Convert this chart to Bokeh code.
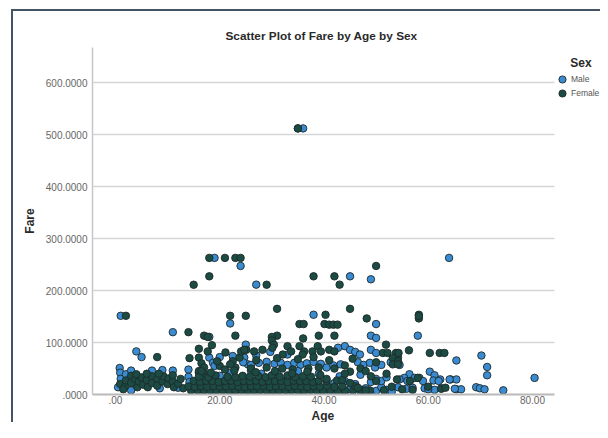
from bokeh.plotting import figure
from bokeh.models import Range1d, FixedTicker, Legend, LegendItem, Label, Title
from bokeh.embed import file_html
from bokeh.resources import INLINE

title_text = "Scatter Plot of Fare by Age by Sex"
x_label = "Age"
y_label = "Fare"
legend_title = "Sex"
series_names = ["Male", "Female"]

x_ticks = [0, 20, 40, 60, 80]
x_tick_labels = [".00", "20.00", "40.00", "60.00", "80.00"]
y_ticks = [0, 100, 200, 300, 400, 500, 600]
y_tick_labels = [".0000", "100.0000", "200.0000", "300.0000", "400.0000", "500.0000", "600.0000"]

# ---- Male (blue) ----
male_age = [
    36, 35, 19, 64, 24, 27, 45, 49, 1, 38, 22, 50, 11, 18, 49, 50, 58,
    0.8, 0.9, 1.0, 0.5, 2, 4, 5, 3, 7, 9, 11, 14, 14, 14.2, 16, 16.8, 18, 18.7, 20, 19,
    22.5, 24.7, 25.4, 25,
    24.5, 26, 27.5, 29, 30.5, 31.7, 33, 34.3, 35.5, 36.7, 38, 39.4, 40.5, 41.8, 43.2,
    46.5, 47.6, 48.8, 49.8, 51, 52.8, 54.5,
    44, 45, 46, 46.9, 49, 50, 42.7, 29.7, 33, 27,
    65.4, 70.2, 71.3, 71.3, 80.4, 64.3, 65.4, 60.3, 61.2, 62.3, 56.4, 55.4, 54.5, 57.4, 58.3, 64.1,
    69.2, 69.9, 70.8, 74.4, 65.4, 66.3, 54.2, 55.8, 59.3, 61.2, 62.5, 65.1,
    40, 42, 44, 45, 47, 48, 50, 51, 52, 53, 36, 38, 42, 44, 46, 49, 50, 51, 52, 47, 43, 39,
    35, 31, 28, 26, 22, 20, 21, 23, 25, 30, 33, 36, 39, 19, 49, 40,
    4, 8.5, 12, 3, 17, 28, 33, 37,
    56, 57, 59, 60, 61, 62,
]
male_fare = [
    512.3, 512.3, 263, 263, 247.5, 211.5, 227.5, 221.8, 151.5, 153.5, 136.8, 135.6, 120, 110.9, 113.3, 108.9, 113.3,
    51, 42, 30, 14, 39, 83, 72, 46, 46, 47, 46, 48, 34, 24, 42, 29, 71, 61, 72, 55,
    74, 71, 58, 96,
    62, 57, 61, 63, 59, 61, 57, 61, 57, 60, 63, 59, 52, 56, 58,
    62, 57, 61, 52, 57, 62, 57,
    93, 86, 82, 77, 86, 80, 90, 82, 77, 75,
    65.5, 75, 53, 37, 32, 29, 29, 44, 37, 29, 39, 32, 29, 32, 32, 29,
    14, 12, 10, 8, 10, 10, 14, 11, 12, 9, 12, 11,
    5, 8, 4, 10, 6, 12, 7, 14, 9, 5, 20, 25, 22, 26, 20, 24, 30, 26, 33, 38, 35, 40,
    45, 43, 40, 46, 42, 36, 12, 0, 0, 0, 0, 0, 0, 0, 0, 0,
    20, 12, 13, 8, 8, 10, 28, 12,
    26, 13, 26, 10, 27, 26,
]

# ---- Female (dark green) ----
female_age = [
    35, 18, 21, 23, 24, 18, 15, 29, 38, 42, 43, 50, 31, 45, 22, 25, 2,
    35.3, 36.1, 40.3, 40.1, 41, 41.8, 42.6, 48.2, 58.2, 58.2, 58.2,
    14, 17, 17.7, 23, 31, 39, 42, 30, 30, 36,
    16, 17.7, 18.5, 21.1, 22.5, 23.8, 24.1, 25.1, 8, 14.2, 24.7, 26.6, 28.2, 30.4, 30.1,
    33, 33.7, 32.1, 35.3, 36.2, 35.9, 37.8, 38.8, 39.4, 41, 42, 51.9, 53.8, 54.2, 51.3,
    52.2, 54.3, 56.3, 60.3, 62.2, 63.1, 53.2, 54.2, 53.2, 54.2,
    16, 16.5, 17, 16, 17.5, 20, 21, 23, 26, 29, 32, 34, 37, 39, 42, 44, 47, 50, 48, 45,
    27, 31, 35, 38, 41, 45.5, 19.5, 22,
    0.9, 1.8, 2, 3, 1.5, 3, 3.8, 4.2, 4.5, 5, 5.3, 6, 6.2, 7, 7, 8, 8, 9, 9.2, 10, 10.2,
    4, 6, 8.3, 11, 11.2, 12, 13, 12.5, 11,
    14.5, 15.8, 17.0, 18.2, 19.4, 20.6, 21.8, 23.0, 24.2, 25.4, 26.6, 27.8, 29.0, 30.2,
    31.4, 32.6, 33.8, 35.0, 36.2, 37.4, 38.6, 39.8, 41.2, 42.6, 44.0, 45.6, 47.2, 48.8,
    14.0, 15.2, 16.4, 17.6, 18.8, 20.0, 21.2, 22.4, 23.6, 24.8, 26.0, 27.2, 28.4, 29.6,
    30.8, 32.0, 33.2, 34.4, 35.6, 36.8, 38.0, 39.2, 40.6, 42.0, 43.5, 46.0,
    15.0, 16.2, 17.4, 18.6, 19.8, 21.0, 22.2, 23.4, 24.6, 25.8, 27.0, 28.2, 29.4, 30.6,
    31.8, 33.0, 34.2, 35.4, 36.6, 37.8, 39.0, 40.5, 42.5,
    16.0, 17.8, 19.2, 21.5, 23.0, 24.4, 25.8, 27.4, 28.8, 30.0, 31.5, 33.0, 34.5, 36.0, 37.5, 39.3,
    16.5, 18.3, 22.8, 26.9, 30.6, 33.9, 36.8,
    40.5, 43.5, 45, 46.5, 48, 50, 51.5, 53, 54, 55, 56.5, 57, 58, 60, 62.5, 63.3, 49, 44, 52,
]
female_fare = [
    512.3, 263, 263, 263, 263, 227.5, 211.3, 211.3, 227.5, 227.5, 211.5, 247.5, 164.9, 164.9, 151.5, 151.5, 151.5,
    135.6, 135.6, 153.5, 135.6, 134.5, 134.5, 134.5, 146.5, 153.5, 146.5, 151,
    120, 113.3, 110.9, 113.3, 113.3, 113.3, 113.3, 110.9, 104, 108,
    88, 83, 95, 81, 64, 71, 83, 86, 72, 70, 86, 83, 86, 96, 90,
    93, 83, 77, 93, 83, 77, 83, 93, 83, 86, 83, 96, 80, 71, 80,
    80, 80, 85, 80, 80, 80, 70, 64, 58, 58,
    71, 60, 52, 45, 38, 55, 48, 52, 50, 52, 50, 48, 50, 52, 50, 56, 50, 62, 45, 44,
    66, 70, 68, 72, 66, 69, 64, 58,
    20, 15, 27, 36, 10, 22, 30, 14, 25, 33, 19, 28, 14, 35, 22, 30, 17, 25, 35, 20, 31,
    39, 40, 40, 25, 14, 21, 12, 30, 37,
    7.8, 7.2, 8.1, 7.9, 7.6, 8.0, 7.2, 7.9, 8.5, 7.8, 7.2, 7.9, 7.7, 8.1,
    7.5, 7.9, 8.3, 7.2, 7.8, 8.0, 7.6, 7.9, 8.6, 7.2, 8.0, 7.7, 8.4, 7.9,
    15.5, 14.5, 16.1, 15.0, 16.5, 14.9, 15.7, 16.7, 15.2, 14.4, 16.0, 15.5, 16.7, 14.5,
    15.9, 16.1, 15.0, 16.5, 15.5, 14.4, 16.0, 15.2, 16.8, 14.5, 15.6, 16.1,
    26.0, 24.5, 26.3, 25.9, 24.0, 26.0, 26.5, 24.2, 26.0, 25.5, 26.5, 24.5, 26.0, 25.9,
    26.3, 24.0, 26.5, 25.5, 26.0, 24.4, 26.3, 25.9, 27.0,
    34.4, 33.0, 36.8, 34.0, 33.5, 36.0, 34.6, 35.5, 33.3, 37.0, 34.4, 36.8, 33.5, 35.0, 34.4, 37.5,
    45, 42, 46, 43, 45, 41, 44,
    30, 28, 22, 13, 8, 26, 8, 15, 29, 10, 26, 9, 32, 15, 11, 13, 35, 40, 40,
]

male_color = "#3a8bd2"
female_color = "#1c4b43"
edge_color = "#1d2a2a"
font = "Liberation Sans"

x_axis_span = (-4.41, 84.22)   # extent of the drawn x axis and grid lines

# the frame runs to the right edge so that the legend (drawn inside it) is not clipped
p = figure(width=600, height=422, output_backend="svg", toolbar_location=None,
           x_range=Range1d(-4.41, 93.05), y_range=Range1d(0, 668),
           min_border_left=92, min_border_right=0, min_border_top=47, min_border_bottom=26)
p.outline_line_color = None
p.background_fill_color = "white"
p.border_fill_color = "white"

# outer frame of the chart (left and top edges; the others lie outside the window)
p.stylesheets = [
    ":host { position: relative; }",
    ":host::after { content: ''; position: absolute; left: 11px; top: 9px; right: 0px; bottom: 0px; "
    "border-left: 2px solid #435564; border-top: 2px solid #435564; pointer-events: none; z-index: 5; }",
]

p.title.text = title_text
p.title.align = "left"
p.title.offset = 133
p.title.text_font = font
p.title.text_font_size = "11.8px"
p.title.text_font_style = "bold"
p.title.text_color = "#2a2a2a"
p.title.standoff = 9

p.xgrid.visible = False
p.ygrid.grid_line_color = "#d6d6d6"
p.ygrid.grid_line_width = 1.5
p.ygrid.cross_bounds = x_axis_span

for ax in (p.xaxis[0], p.yaxis[0]):
    ax.major_tick_in = 0
    ax.major_tick_out = 0
    ax.minor_tick_in = 0
    ax.minor_tick_out = 0
    ax.major_label_text_font = font
    ax.major_label_text_font_size = "10px"
    ax.major_label_text_color = "#666666"
    ax.axis_label_text_font = font
    ax.axis_label_text_font_size = "12px"
    ax.axis_label_text_font_style = "bold"
    ax.axis_label_text_color = "#2a2a2a"

p.xaxis.bounds = x_axis_span
p.yaxis.axis_label = y_label
p.yaxis.major_label_standoff = 5
p.xaxis.major_label_standoff = 1
p.yaxis.axis_label_standoff = 6

p.xaxis.ticker = FixedTicker(ticks=x_ticks)
p.xaxis.major_label_overrides = dict(zip(x_ticks, x_tick_labels))
p.yaxis.ticker = FixedTicker(ticks=y_ticks)
p.yaxis.major_label_overrides = dict(zip(y_ticks, y_tick_labels))
p.yaxis.axis_line_color = "#c6c6c6"
p.yaxis.axis_line_width = 1.5
p.xaxis.axis_line_color = "#b9b9b9"
p.xaxis.axis_line_width = 2

# x axis title, centred under the drawn axis (not under the wider frame)
p.add_layout(Title(text=x_label, align="left", offset=219, standoff=0,
                   text_font=font, text_font_size="12px", text_font_style="bold",
                   text_color="#2a2a2a"), "below")

r_m = p.scatter(male_age, male_fare, size=7.5, fill_color=male_color, line_color=edge_color, line_width=0.9)
r_f = p.scatter(female_age, female_fare, size=7.5, fill_color=female_color, line_color=edge_color, line_width=0.9)

legend_style = dict(glyph_width=18, glyph_height=24, label_standoff=0, spacing=0, padding=0, margin=0,
                    border_line_alpha=0, background_fill_alpha=0, label_text_font=font,
                    label_text_font_size="8.5px", label_text_color="#555555")
legend_m = Legend(items=[LegendItem(label=series_names[0], renderers=[r_m])],
                  location=(461, 303), **legend_style)
legend_f = Legend(items=[LegendItem(label=series_names[1], renderers=[r_f])],
                  location=(461, 289), **legend_style)
p.add_layout(legend_m, "center")
p.add_layout(legend_f, "center")

p.add_layout(Label(x=488.5, y=332, x_units="screen", y_units="screen", text=legend_title,
                   text_font=font, text_font_size="12px", text_font_style="bold",
                   text_color="#2a2a2a", text_align="center", text_baseline="middle"))

open("out.html", "w").write(file_html(p, INLINE))
